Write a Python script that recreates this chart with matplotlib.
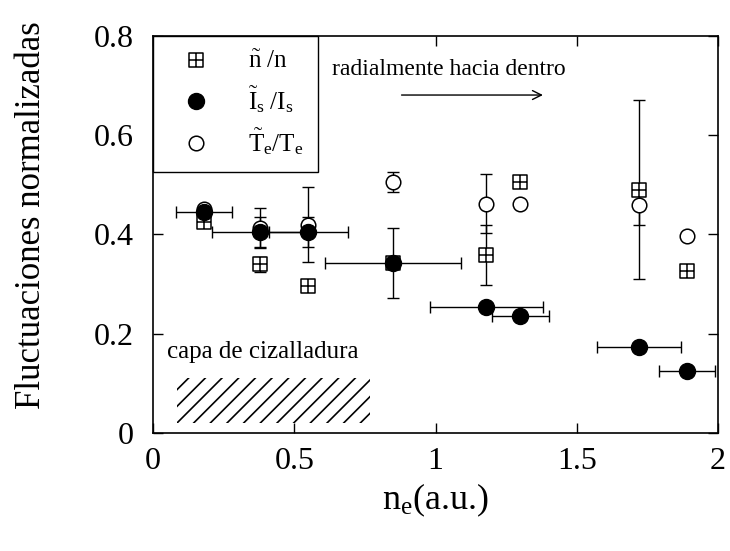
import numpy as np
import matplotlib
matplotlib.use('Agg')
import matplotlib.pyplot as plt
from matplotlib.path import Path
from matplotlib.patches import Rectangle

plt.rcParams['font.family'] = ['Liberation Serif', 'DejaVu Serif']
plt.rcParams['mathtext.fontset'] = 'custom'
plt.rcParams['mathtext.rm'] = 'Liberation Serif'
plt.rcParams['mathtext.it'] = 'Liberation Serif:italic'
plt.rcParams['hatch.linewidth'] = 1.2

# posiciones radiales (densidad normalizada)
ne = [0.18, 0.38, 0.55, 0.85, 1.18, 1.30, 1.72, 1.89]

# Is fluctuaciones (circulos llenos)
is_y = [0.445, 0.405, 0.405, 0.343, 0.254, 0.236, 0.173, 0.125]
is_xerr = [0.10, 0.17, 0.14, 0.24, 0.20, 0.10, 0.15, 0.10]
is_yerr = [0.0, 0.03, 0.03, 0.0, 0.0, 0.0, 0.0, 0.0]

# n fluctuaciones (cuadrados con cruz)
n_y = [0.425, 0.340, 0.296, 0.343, 0.359, 0.506, 0.490, 0.327]
n_yerr = [0.0, 0.015, 0.0, 0.07, 0.06, 0.0, 0.18, 0.0]

# Te fluctuaciones (circulos vacios)
te_y = [0.452, 0.413, 0.420, 0.506, 0.462, 0.462, 0.460, 0.397]
te_yerr = [0.0, 0.04, 0.076, 0.02, 0.06, 0.0, 0.04, 0.0]

# capa de cizalladura
shear_x = [0.085, 0.768]
shear_y = [0.02, 0.111]

# cuadrado con cruz
box_plus = Path([(-1, -1), (1, -1), (1, 1), (-1, 1), (-1, -1),
                 (0, -1), (0, 1), (-1, 0), (1, 0)],
                [Path.MOVETO, Path.LINETO, Path.LINETO, Path.LINETO, Path.CLOSEPOLY,
                 Path.MOVETO, Path.LINETO, Path.MOVETO, Path.LINETO])

fig = plt.figure(figsize=(7.3, 5.51), dpi=100)
ax = fig.add_axes([0.2096, 0.2142, 0.7740, 0.7205])

ax.errorbar(ne, n_y, yerr=n_yerr, fmt='none', ecolor='black', elinewidth=1, capsize=4, capthick=1)
ax.errorbar(ne, te_y, yerr=te_yerr, fmt='none', ecolor='black', elinewidth=1, capsize=4, capthick=1)
ax.errorbar(ne, is_y, xerr=is_xerr, yerr=is_yerr, fmt='none', ecolor='black', elinewidth=1, capsize=4, capthick=1)

h_n, = ax.plot(ne, n_y, ls='none', marker=box_plus, ms=9.5, mfc='white', mec='black', mew=1.1,
               label=r'$\tilde{\mathrm{n}}\ /\mathrm{n}$')
h_te, = ax.plot(ne, te_y, ls='none', marker='o', ms=10.5, mfc='white', mec='black', mew=1.1,
                label=r'$\tilde{\mathrm{T}}_{\mathrm{e}}/\mathrm{T}_{\mathrm{e}}$')
h_is, = ax.plot(ne, is_y, ls='none', marker='o', ms=11.5, mfc='black', mec='black',
                label=r'$\tilde{\mathrm{I}}_{\mathrm{s}}\ /\mathrm{I}_{\mathrm{s}}$')

ax.add_patch(Rectangle((shear_x[0], shear_y[0]), shear_x[1] - shear_x[0], shear_y[1] - shear_y[0],
                       facecolor='none', edgecolor='black', linewidth=0, hatch='//'))
ax.text(0.05, 0.163, 'capa de cizalladura', fontsize=18, va='center', ha='left')

ax.text(0.634, 0.732, 'radialmente hacia dentro', fontsize=17, va='center', ha='left')
ax.annotate('', xy=(1.39, 0.681), xytext=(0.87, 0.681),
            arrowprops=dict(arrowstyle='->', color='black', lw=1, mutation_scale=16))

leg = ax.legend(handles=[h_n, h_is, h_te], loc='upper left', bbox_to_anchor=(0, 1),
                borderaxespad=0, fontsize=18, frameon=True, fancybox=False,
                edgecolor='black', framealpha=1, labelspacing=0.45, handletextpad=1.0,
                borderpad=0.6, handlelength=2.2)
leg.get_frame().set_linewidth(1.0)

ax.set_xlim(0, 2)
ax.set_ylim(0, 0.8)
ax.set_xticks([0, 0.5, 1, 1.5, 2])
ax.set_xticklabels(['0', '0.5', '1', '1.5', '2'])
ax.set_yticks([0, 0.2, 0.4, 0.6, 0.8])
ax.set_yticklabels(['0', '0.2', '0.4', '0.6', '0.8'])
ax.tick_params(direction='in', length=7, width=1, top=True, right=True, labelsize=23)
ax.tick_params(axis='x', pad=10)
ax.tick_params(axis='y', pad=14)
for s in ax.spines.values():
    s.set_linewidth(1.2)

ax.set_xlabel(r'$\mathrm{n}_{\mathrm{e}}$(a.u.)', fontsize=26, labelpad=4)
ax.set_ylabel('Fluctuaciones normalizadas', fontsize=25)
ax.yaxis.set_label_coords(-0.185, 0.55)

fig.savefig('out.png', dpi=100, facecolor='white')
